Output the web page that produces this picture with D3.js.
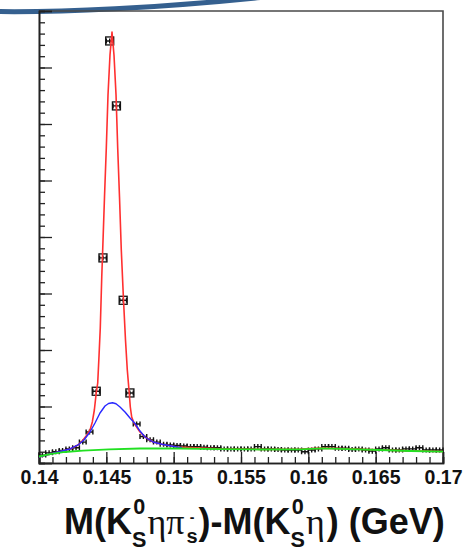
<!DOCTYPE html>
<html>
<head>
<meta charset="utf-8">
<script src="https://cdn.jsdelivr.net/npm/d3@7"></script>
<style>
  body { margin: 0; background: #fff; }
  svg { display: block; }
</style>
</head>
<body>
<div id="wrapper"></div>
<script>
// histogram: bins of 0.5 MeV from 0.14 to 0.17 GeV
const binLow = 0.14;
const binWidth = 0.0005;
const counts = [14, 18, 20, 22, 25, 27, 37, 55, 127, 363, 747, 632, 288, 124, 69, 47,
    41, 37, 33, 32, 31, 30, 29, 29, 28, 27, 27, 25, 25, 25, 25, 25, 29, 25, 25, 24,
    23, 23, 23, 20, 23, 25, 29, 29, 26, 26, 24, 25, 23, 21, 25, 27, 23, 23, 25, 25,
    27, 23, 23, 23];

// total fit (red)
const redMass = [0.14, 0.14082, 0.14156, 0.1423, 0.1429, 0.14327, 0.14356, 0.14379, 0.14396,
    0.14411, 0.14425, 0.14436, 0.14446, 0.14455, 0.14466, 0.14473, 0.144864, 0.144998,
    0.145124, 0.145272, 0.145421, 0.145569, 0.14572, 0.145844, 0.145978, 0.146111,
    0.146275, 0.146423, 0.146557, 0.146683, 0.14678, 0.146884, 0.147054, 0.147203,
    0.1475, 0.147871, 0.148465, 0.149208, 0.150247, 0.1535, 0.1565, 0.1594, 0.161,
    0.1624, 0.1653, 0.1675, 0.17];
const redValue = [10.6, 15.9, 20.4, 24.8, 31.9, 40.7, 49.6, 58.4, 72.6, 93.8, 123.9, 141.6,
    191.2, 238.9, 329.2, 377.0, 470.8, 557.5, 651.3, 722.1, 762.8, 722.1, 651.3, 557.5,
    470.8, 377.0, 288.5, 217.7, 164.6, 129.2, 99.1, 81.4, 70.8, 65.5, 54.9, 46.0, 37.2,
    32.7, 28.3, 25.0, 24.2, 24.5, 26.3, 25.4, 23.3, 21.5, 20.3];

// second fit (blue)
const blueMass = [0.14, 0.14082, 0.14156, 0.1423, 0.1429, 0.143342, 0.143787, 0.144158,
    0.14453, 0.144901, 0.145161, 0.145458, 0.145718, 0.146015, 0.146386, 0.146757,
    0.147129, 0.1475, 0.147871, 0.148465, 0.149208, 0.150247, 0.150619];
const blueValue = [10.6, 15.9, 20.4, 24.8, 31.9, 40.7, 54.9, 70.8, 88.5, 100.9, 105.3,
    106.7, 104.8, 99.1, 90.3, 79.6, 69.9, 56.6, 46.0, 37.2, 32.7, 28.3, 27.1];

// background (green)
const bkgMass = [0.14, 0.14082, 0.14193, 0.143267, 0.145198, 0.1475, 0.15047, 0.15344,
    0.15641, 0.159381, 0.161015, 0.162351, 0.165322, 0.167549, 0.17];
const bkgValue = [11.5, 15.9, 19.5, 21.8, 24.2, 25.7, 25.7, 24.4, 23.9, 24.2, 26.0, 25.1,
    23.0, 21.2, 20.0];

const xTicks = [0.14, 0.145, 0.15, 0.155, 0.16, 0.165, 0.17];

const dimension = {
    width: 465,
    height: 552,
    margin: { top: 11, left: 39, bottom: 89, right: 22 }
};
dimension.boundedWidth = dimension.width - dimension.margin.left - dimension.margin.right;
dimension.boundedHeight = dimension.height - dimension.margin.top - dimension.margin.bottom;

const svg = d3.select("#wrapper").append("svg")
    .attr("width", dimension.width)
    .attr("height", dimension.height);

// slide decoration at the top
svg.append("path")
    .attr("d", "M-5,11.5 C60,12.5 160,8 265,-3")
    .attr("fill", "none")
    .attr("stroke", "#35608f")
    .attr("stroke-width", 5);

const bounded = svg.append("g")
    .attr("transform", `translate(${dimension.margin.left},${dimension.margin.top})`);

const xScaler = d3.scaleLinear()
    .domain([0.14, 0.17])
    .range([0, dimension.boundedWidth]);
const yScaler = d3.scaleLinear()
    .domain([0, 800])
    .range([dimension.boundedHeight, 0]);

// frame (top and right)
bounded.append("path")
    .attr("d", `M0,0 H${dimension.boundedWidth} V${dimension.boundedHeight}`)
    .attr("fill", "none")
    .attr("stroke", "#4a4a4a")
    .attr("stroke-width", 1.6);

// y axis, ticks pointing inside, no labels
const yMinor = d3.axisLeft(yScaler).tickValues(d3.range(0, 801, 20))
    .tickSize(-6).tickFormat("");
const yMajor = d3.axisLeft(yScaler).tickValues(d3.range(0, 801, 100))
    .tickSize(-13).tickFormat("");
bounded.append("g").call(yMinor);
bounded.append("g").call(yMajor);

// x axis
const xMinor = d3.axisBottom(xScaler).tickValues(d3.range(0, 31).map(i => 0.14 + i * 0.001))
    .tickSize(-6).tickFormat("");
const xMajor = d3.axisBottom(xScaler).tickValues(xTicks)
    .tickSize(-11).tickPadding(7).tickFormat(d3.format("~g"));
bounded.append("g").attr("transform", `translate(0,${dimension.boundedHeight})`).call(xMinor);
const xg = bounded.append("g").attr("transform", `translate(0,${dimension.boundedHeight})`).call(xMajor);
xg.selectAll("text")
    .style("font-family", "'Liberation Sans', Arial, sans-serif")
    .style("font-weight", "bold")
    .style("font-size", "19.5px")
    .attr("fill", "#111");

svg.selectAll(".domain").attr("stroke", "#222").attr("stroke-width", 1.6);
svg.selectAll(".tick line").attr("stroke", "#222").attr("stroke-width", 1.3);

// data points
const points = bounded.append("g");
counts.forEach((c, i) => {
    const x0 = xScaler(binLow + i * binWidth);
    const x1 = xScaler(binLow + (i + 1) * binWidth);
    const xc = (x0 + x1) / 2;
    const y = yScaler(c);
    points.append("path")
        .attr("d", `M${x0},${y} H${x1} M${x0},${y - 2.5} V${y + 2.5} M${x1},${y - 2.5} V${y + 2.5} M${xc},${y - 2.5} V${y + 2.5}`)
        .attr("stroke", "#111")
        .attr("stroke-width", 1.4)
        .attr("fill", "none");
    if (c > 100) {
        points.append("rect")
            .attr("x", xc - 4).attr("y", y - 4)
            .attr("width", 8).attr("height", 8)
            .attr("fill", "none")
            .attr("stroke", "#111")
            .attr("stroke-width", 1.3);
    }
});

// fit curves
function drawCurve(mass, values, color, width) {
    const line = d3.line()
        .x((d, i) => xScaler(mass[i]))
        .y(d => yScaler(d));
    bounded.append("path")
        .attr("d", line(values))
        .attr("fill", "none")
        .attr("stroke", color)
        .attr("stroke-width", width)
        .attr("stroke-linejoin", "round");
}
drawCurve(redMass, redValue, "#ff3030", 1.6);
drawCurve(blueMass, blueValue, "#2828ff", 1.4);
drawCurve(bkgMass, bkgValue, "#22e022", 1.8);

// x axis title built piece by piece (stacked super/subscripts share one text)
const F = 36;
const titleParts = [
    { text: "M(K" },
    { sup: "0", sub: "S", supDy: -20, subDy: 13, supSize: 21.6, subSize: 21.6 },
    { text: "ηπ", greek: true },
    { sup: "-", sub: "s", supDy: -12, subDy: 9, supSize: 14, subSize: 20 },
    { text: ")-M(K" },
    { sup: "0", sub: "S", supDy: -20, subDy: 13, supSize: 21.6, subSize: 21.6 },
    { text: "η", greek: true },
    { text: ") (GeV)" }
];
const title = svg.append("g")
    .style("font-family", "'Liberation Sans', Arial, sans-serif")
    .style("font-weight", "bold")
    .attr("fill", "#111");
let tx = 64;
const ty = 534;
titleParts.forEach(p => {
    if (p.text) {
        const t = title.append("text")
            .attr("x", tx).attr("y", ty)
            .style("font-size", F + "px")
            .text(p.text);
        if (p.greek) {
            t.style("font-family", "'Liberation Serif', serif").style("font-weight", "normal");
        }
        tx += t.node().getComputedTextLength() + (p.greek ? 2 : 0);
    } else {
        const t = title.append("text");
        const a = t.append("tspan").attr("x", tx).attr("y", ty + p.supDy)
            .style("font-size", p.supSize + "px").text(p.sup);
        const b = t.append("tspan").attr("x", tx).attr("y", ty + p.subDy)
            .style("font-size", p.subSize + "px").text(p.sub);
        const wa = a.node().getComputedTextLength();
        const wb = b.node().getComputedTextLength();
        // centre the narrower glyph over the wider one
        if (wa < wb) a.attr("x", tx + (wb - wa) / 2);
        tx += Math.max(wa, wb) + 1;
    }
});
</script>
</body>
</html>
